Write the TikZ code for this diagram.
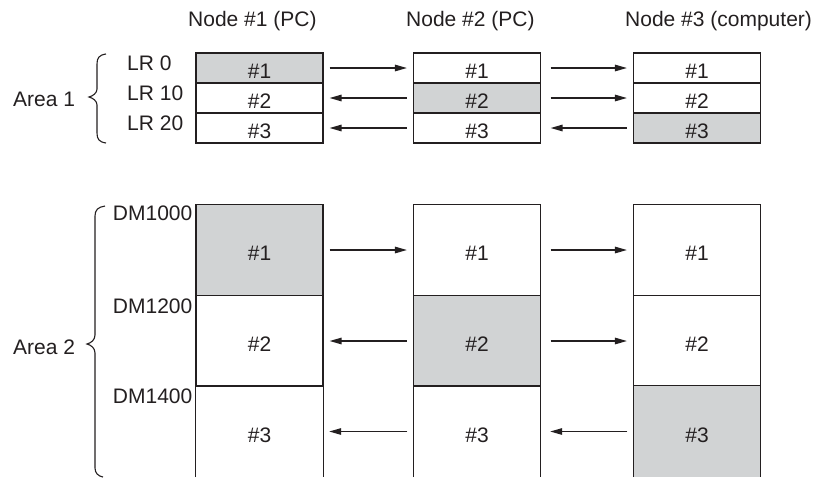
\documentclass[tikz,border=0pt]{standalone}
\usepackage{fontspec}
\setmainfont{Liberation Sans}
\usetikzlibrary{arrows.meta}
\definecolor{ink}{HTML}{231F20}
\definecolor{shade}{HTML}{D1D3D4}
\begin{document}
\begin{tikzpicture}[x=1pt,y=-1pt,
  txt/.style={font=\fontsize{21}{25}\selectfont, text=ink, inner sep=0pt},
  cell/.style={txt, draw=ink, line width=1.2pt, minimum width=127pt, text height=21pt, text depth=0pt},
  lowcell/.style={cell, minimum height=30pt},
  tallcell/.style={cell, minimum height=91pt},
  opencell/.style={txt, minimum width=127pt, minimum height=91pt, text height=21pt, text depth=0pt},
  hit/.style={fill=shade},
  arr/.style={draw=ink, line width=1.3pt, -{Triangle[length=12pt,width=6.5pt]}},
  gapa/.style={shorten <=6pt, shorten >=6pt},
  gapb/.style={shorten <=9.5pt, shorten >=6pt},
  gapc/.style={shorten <=6pt, shorten >=9.5pt},
  brace/.style={draw=ink, line width=1.1pt}
]
\useasboundingbox (0,0) rectangle (826,477);

% headers
\node[txt, anchor=base west] (h1) at (188,26) {Node \#1 (PC)};
\node[txt, anchor=base west] (h2) at (406,26) {Node \#2 (PC)};
\node[txt, anchor=base west] (h3) at (625,26) {Node \#3 (computer)};

% Area 1 cells
\node[lowcell, hit] (a11) at (259.5,68) {\#1};
\node[lowcell] (a12) at (259.5,98) {\#2};
\node[lowcell] (a13) at (259.5,128) {\#3};
\node[lowcell] (b11) at (477,68) {\#1};
\node[lowcell, hit] (b12) at (477,98) {\#2};
\node[lowcell] (b13) at (477,128) {\#3};
\node[lowcell] (c11) at (697,68) {\#1};
\node[lowcell] (c12) at (697,98) {\#2};
\node[lowcell, hit] (c13) at (697,128) {\#3};

% Area 2 cells
\node[tallcell, hit] (a21) at (259.5,250) {\#1};
\node[tallcell] (a22) at (259.5,341) {\#2};
\node[opencell] (a23) at (259.5,431.5) {\#3};
\node[tallcell] (b21) at (477,250) {\#1};
\node[tallcell, hit] (b22) at (477,341) {\#2};
\node[opencell] (b23) at (477,431.5) {\#3};
\node[tallcell] (c21) at (697,250) {\#1};
\node[tallcell] (c22) at (697,341) {\#2};
\node[opencell, fill=shade] (c23) at (697,431.5) {\#3};
\foreach \n in {a23,b23,c23}
  \draw[ink, line width=1.2pt] (\n.south west) -- (\n.north west) -- (\n.north east) -- (\n.south east);

% arrows Area 1
\draw[arr, gapa] (a11) -- (b11);
\draw[arr, gapb] (b11) -- (c11);
\draw[arr, gapa] (b12) -- (a12);
\draw[arr, gapb] (b12) -- (c12);
\draw[arr, gapa] (b13) -- (a13);
\draw[arr, gapc] (c13) -- (b13);

% arrows Area 2
\draw[arr, gapa] (a21) -- (b21);
\draw[arr, gapb] (b21) -- (c21);
\draw[arr, gapa] (b22) -- (a22);
\draw[arr, gapb] (b22) -- (c22);
\draw[arr, gapa] (b23) -- (a23);
\draw[arr, gapc] (c23) -- (b23);

% row labels
\node[txt, anchor=west] (lr0) at (127,63.5) {LR 0};
\node[txt, anchor=west] (lr10) at (127,93.5) {LR 10};
\node[txt, anchor=west] (lr20) at (127,123) {LR 20};
\node[txt, anchor=east] (dm1) at (192.5,213) {DM1000};
\node[txt, anchor=east] (dm2) at (192.5,306) {DM1200};
\node[txt, anchor=east] (dm3) at (192.5,396) {DM1400};

% area labels
\node[txt, anchor=west] (ar1) at (13,99) {Area 1};
\node[txt, anchor=west] (ar2) at (13,347) {Area 2};

% braces
\draw[brace] (106,54) .. controls (99,55) and (97,58) .. (97,64) -- (97,89)
  .. controls (97,93) and (93,96) .. (89,97) .. controls (93,98) and (97,101) .. (97,105)
  -- (97,133) .. controls (97,139) and (99,142) .. (106,143);
\draw[brace] (105,206) .. controls (98,207) and (95,210) .. (95,216) -- (95,335)
  .. controls (95,340) and (91,343) .. (87,344) .. controls (91,345) and (95,348) .. (95,353)
  -- (95,468) .. controls (95,473) and (98,476) .. (103,477);
\end{tikzpicture}
\end{document}
